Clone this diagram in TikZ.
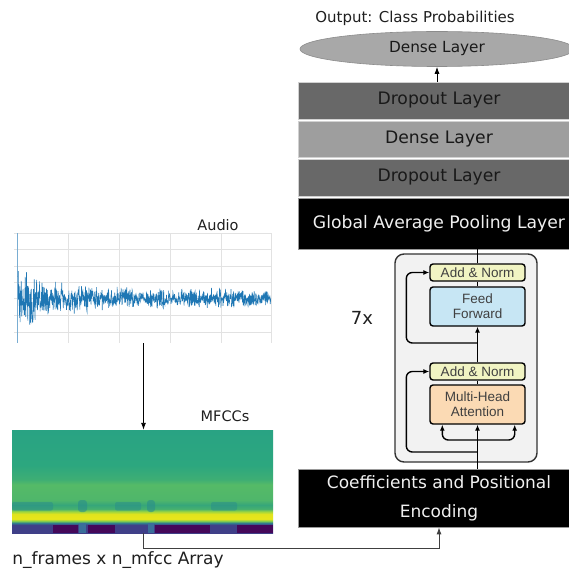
\documentclass[tikz,border=0pt]{standalone}
\usepackage{fontspec}
\setmainfont{DejaVu Sans}
\newfontfamily\tffont{Liberation Sans}
\usetikzlibrary{arrows.meta,shapes.geometric,calc}
\definecolor{dropgray}{HTML}{686868}
\definecolor{densegray}{HTML}{9E9E9E}
\definecolor{ellgray}{HTML}{A8A8A8}
\definecolor{anyellow}{HTML}{F1F4C3}
\definecolor{ffblue}{HTML}{C7E6F4}
\definecolor{mhaorange}{HTML}{FBDAB4}
\definecolor{blockfill}{HTML}{F2F2F2}
\definecolor{wavecol}{HTML}{1F77B4}
\definecolor{gridcol}{HTML}{E2E2E2}
\definecolor{mpurp}{HTML}{3F3F88}
\definecolor{mteal2}{HTML}{2E7F8E}
\definecolor{mlgreen}{HTML}{7FCD4F}
\definecolor{myellow}{HTML}{E8E51A}
\definecolor{myellowb}{HTML}{E0E31D}
\definecolor{mygreen}{HTML}{9FD63E}
\definecolor{mgreenc}{HTML}{45B06F}
\definecolor{mtealc}{HTML}{36A67A}
\definecolor{mgreend}{HTML}{4FB66B}
\definecolor{mgreene}{HTML}{55BA67}
\definecolor{mgreenf}{HTML}{3EAE74}
\definecolor{mtopb}{HTML}{2CA77F}
\definecolor{mtop}{HTML}{29A383}
\definecolor{mblob}{HTML}{2A8E8B}
\definecolor{mdark}{HTML}{45085A}
\definecolor{mlblue}{HTML}{3A6E9A}
\pgfdeclareverticalshading{mfccshade}{100bp}{color(0bp)=(mpurp); color(25bp)=(mpurp); color(28.9bp)=(mpurp); color(29.9bp)=(mteal2); color(30.8bp)=(mlgreen); color(31.8bp)=(myellow); color(34.2bp)=(myellowb); color(35.4bp)=(mygreen); color(36.7bp)=(mgreenc); color(38.6bp)=(mtealc); color(41bp)=(mgreend); color(48.5bp)=(mgreene); color(51bp)=(mgreenf); color(58bp)=(mtopb); color(75bp)=(mtop); color(100bp)=(mtop)}
\tikzset{
  graybox/.style={rectangle, minimum width=282pt, inner sep=0pt, text=black!90, font=\fontsize{17.2}{20}\selectfont, draw=white!82!black, line width=0.8pt},
  blackbox/.style={rectangle, minimum width=282pt, inner sep=0pt, fill=black, text=white!94!black, font=\fontsize{17.2}{20}\selectfont, draw=white!60!black, line width=0.8pt},
  tbox/.style={rectangle, rounded corners=3pt, draw=black, line width=1.4pt, minimum width=95pt, inner sep=0pt, text=black!75, font=\tffont\fontsize{13.5}{16}\selectfont, align=center},
  tline/.style={line width=1.4pt, draw=black},
  tarrow/.style={tline, -{Latex[length=6pt,width=5pt]}},
  conn/.style={draw=black!75, line width=0.9pt},
  connarrow/.style={conn, -{Latex[length=7pt,width=5pt]}},
  lbl/.style={inner sep=0pt, text=black!88},
  gridline/.style={draw=gridcol, line width=0.8pt},
  wave/.style={draw=wavecol, line width=0.55pt}
}
\begin{document}
\begin{tikzpicture}[x=1pt,y=-1pt]
\path[use as bounding box, clip] (0,0) rectangle (569,572);
\fill[white] (0,0) rectangle (569,572);

% top stack
\node[lbl, font=\fontsize{15}{17}\selectfont] (outlbl) at (415,18) {Output: Class Probabilities};
\node[ellipse, fill=ellgray, draw=black!45, line width=0.6pt, minimum width=274pt, minimum height=35pt, inner sep=0pt, font=\fontsize{15.3}{18}\selectfont, text=black!90] (ell) at (437,49) {Dense Layer};
\node[graybox, fill=dropgray, minimum height=37pt] (drop1) at (439,100.5) {Dropout Layer};
\node[graybox, fill=densegray, minimum height=36pt] (dense) at (439,139) {Dense Layer};
\node[graybox, fill=dropgray, minimum height=37pt] (drop2) at (439,177.5) {Dropout Layer};
\node[blackbox, minimum height=51pt] (gap) at (439,223.5) {Global Average Pooling Layer};
\draw[connarrow, draw=black] (ell.south |- drop1.north) -- (ell.south);

% transformer block
\node[rectangle, rounded corners=9pt, draw=black!80, fill=blockfill, line width=1.4pt, minimum width=142pt, minimum height=208pt, inner sep=0pt] (tblock) at (466,358) {};
\node[tbox, fill=anyellow, minimum height=17pt] (an2) at (477.5,272.5) {Add \& Norm};
\node[tbox, fill=ffblue, minimum height=39pt] (ff) at (477.5,306.5) {Feed\\[-1pt]Forward};
\node[tbox, fill=anyellow, minimum height=17pt] (an1) at (477.5,371.5) {Add \& Norm};
\node[tbox, fill=mhaorange, minimum height=39pt] (mha) at (477.5,404.5) {Multi-Head\\[-1pt]Attention};
\node[lbl, font=\fontsize{18}{21}\selectfont] (rep) at (362,318) {7x};

\node[blackbox, minimum height=58pt, align=center, font=\fontsize{17}{29}\selectfont] (coeff) at (439,498) {Coefficients and Positional\\Encoding};

\coordinate (branch) at (477.5,440);
\coordinate (res1) at (477.5,452);
\coordinate (res2) at (477.5,343);

\draw[tarrow] (mha.south |- coeff.north) -- (mha.south);
\draw[tline] (mha.north) -- (an1.south);
\draw[tarrow] (an1.north) -- (ff.south);
\draw[tline] (ff.north) -- (an2.south);
\draw[tline] (an2.north) -- (an2.north |- gap.south);
\draw[tarrow, rounded corners=6pt] (branch) -| ([xshift=13pt]mha.south west);
\draw[tarrow, rounded corners=6pt] (branch) -| ([xshift=-11pt]mha.south east);
\draw[tarrow, rounded corners=6pt] (res1) -| ([xshift=-23pt]an1.west) -- (an1.west);
\draw[tarrow, rounded corners=6pt] (res2) -| ([xshift=-23pt]an2.west) -- (an2.west);

% audio plot
\node[inner sep=0pt, minimum width=255pt, minimum height=110pt] (audio) at (143.5,288) {};
\foreach \gx in {17,68,119,170,221,271} \draw[gridline] (\gx,233) -- (\gx,343);
\foreach \gy in {233,249,266,282,298,315,332} \draw[gridline] (14,\gy) -- (271,\gy);
\draw[draw=wavecol!60, line width=1pt] (17,233) -- (17,343);
\pgfmathsetseed{17}
\draw[wave] plot[domain=18:271, samples=950, variable=\t] (\t, {298.5 + (6 + 17/(1+((\t-18)/32)^2) + 3/(1+((\t-18)/110)^2) + 3/(1+((\t-222)/8)^2))*(rand+rand)/2*1.3});
\node[lbl, font=\fontsize{14.5}{17}\selectfont] (audiolbl) at (218,225) {Audio};

% mfcc image
\node[inner sep=0pt, minimum width=261pt, minimum height=103pt] (mfcc) at (142.5,481.5) {};
\fill[shading=mfccshade] (12,430) rectangle (273,533);
\foreach \a/\b in {12/53,115/141,211/237}
  \fill[mblob, opacity=0.5, rounded corners=2pt] (\a,502) rectangle (\b,510.5);
\foreach \a/\b in {78/87,147/155}
  \fill[mblob, opacity=0.6, rounded corners=3pt] (\a,500) rectangle (\b,512);
\foreach \a/\b in {53/78,88/115,155/210,237/273}
  \fill[mdark] (\a,525) rectangle (\b,533);
\foreach \a/\b in {79/86,148/154}
  \fill[mlblue] (\a,523) rectangle (\b,533);
\node[lbl, font=\fontsize{14.5}{17}\selectfont] (mfcclbl) at (225,416) {MFCCs};
\node[lbl, font=\fontsize{17}{20}\selectfont] (arrlbl) at (118,560) {n\_frames x n\_mfcc Array};

\draw[connarrow, draw=black] (audio.south) -- (audio.south |- mfcc.north);
\draw[connarrow] (audio.south |- mfcc.south) -- ++(0,15) -| (coeff.south);
\end{tikzpicture}
\end{document}
